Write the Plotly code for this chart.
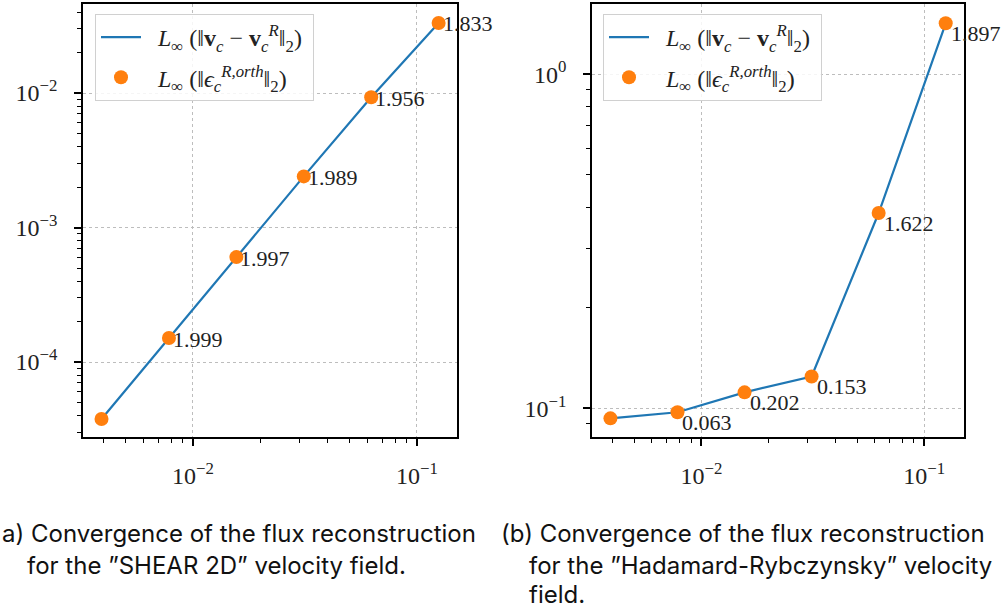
import numpy as np
import plotly.graph_objects as go

# mesh sizes and errors
h = [1/256, 1/128, 1/64, 1/32, 1/16, 1/8]
err_shear = [3.77e-5, 1.51e-4, 6.03e-4, 2.40e-3, 9.30e-3, 3.32e-2]
rate_shear = ["1.999", "1.997", "1.989", "1.956", "1.833"]
err_hr = [0.0933, 0.0973, 0.1116, 0.1245, 0.384, 1.42]
rate_hr = ["0.063", "0.202", "0.153", "1.622", "1.897"]

BLUE = "#1f77b4"
ORANGE = "#ff7f0e"
SERIF = "Liberation Serif, DejaVu Serif, serif"
SANS = "Inter, Roboto, sans-serif"
TXT = "#222222"
NB = "\u00a0"

name_line = (f"{NB}{NB}<i>L</i><sub>∞</sub>{NB}(‖<b>v</b><sub><i>c</i></sub>{NB}−{NB}"
             f"<b>v</b><sub><i>c</i></sub><sup><i>R</i></sup>‖<sub>2</sub>){NB}")
name_pts = (f"{NB}{NB}<i>L</i><sub>∞</sub>{NB}(‖<i>ϵ</i><sub><i>c</i></sub>"
            f"<sup><i>R,orth</i></sup>‖<sub>2</sub>){NB}")

fig = go.Figure()

for k, (err, leg) in enumerate([(err_shear, "legend"), (err_hr, "legend2")]):
    xa = "x" if k == 0 else "x2"
    ya = "y" if k == 0 else "y2"
    fig.add_trace(go.Scatter(x=h, y=err, mode="lines", name=name_line,
                             line=dict(color=BLUE, width=2.2),
                             xaxis=xa, yaxis=ya, legend=leg, legendgroup=f"l{k}"))
    fig.add_trace(go.Scatter(x=h, y=err, mode="markers", name=name_pts,
                             marker=dict(color=ORANGE, size=14, line=dict(width=0)),
                             xaxis=xa, yaxis=ya, legend=leg, legendgroup=f"m{k}"))

# convergence-rate labels
for xi, yi, t in zip(h[1:], err_shear[1:], rate_shear):
    fig.add_annotation(x=np.log10(xi), y=np.log10(yi), xref="x", yref="y",
                       text=t, showarrow=False, xanchor="left", yanchor="middle",
                       xshift=2, yshift=-1, font=dict(family=SERIF, size=22, color=TXT))
for xi, yi, t in zip(h[1:], err_hr[1:], rate_hr):
    fig.add_annotation(x=np.log10(xi), y=np.log10(yi), xref="x2", yref="y2",
                       text=t, showarrow=False, xanchor="left", yanchor="middle",
                       xshift=3, yshift=-10, font=dict(family=SERIF, size=22, color=TXT))

xminor = [m * 10.0**e for e in (-3, -2) for m in range(2, 10)]
grid = dict(showgrid=True, gridcolor="#bdbdbd", gridwidth=1, griddash="dot")
frame = dict(showline=True, linecolor="black", linewidth=1.6, mirror=True, zeroline=False,
             ticks="outside", ticklen=7, tickwidth=1.6, tickcolor="black")
tickfont = dict(family=SERIF, size=24, color=TXT)

common_x = dict(type="log", range=[-2.491, -0.821],
                tickvals=[1e-2, 1e-1], ticktext=["10<sup>−2</sup>", "10<sup>−1</sup>"],
                minor=dict(tickvals=xminor, ticks="outside", ticklen=4, tickwidth=1,
                           tickcolor="black", showgrid=False),
                tickfont=tickfont, ticklabelstandoff=9, **frame, **grid)

legend_style = dict(xanchor="left", yanchor="top",
                    bgcolor="rgba(255,255,255,0.85)", bordercolor="#d0d0d0", borderwidth=1,
                    tracegroupgap=6, itemwidth=40,
                    font=dict(family=SERIF, size=24, color=TXT))

fig.update_layout(
    width=1005, height=611,
    margin=dict(l=0, r=0, t=0, b=0),
    paper_bgcolor="white", plot_bgcolor="white",
    xaxis=dict(domain=[83/1005, 457/1005], anchor="y", **common_x),
    xaxis2=dict(domain=[592/1005, 964/1005], anchor="y2", **common_x),
    yaxis=dict(type="log", range=[-4.557, -1.338], domain=[1-437/611, 1-4/611], anchor="x",
               tickvals=[1e-4, 1e-3, 1e-2],
               ticktext=["10<sup>−4</sup>", "10<sup>−3</sup>", "10<sup>−2</sup>"],
               minor=dict(tickvals=[m * 10.0**e for e in (-5, -4, -3, -2) for m in range(2, 10)],
                          ticks="outside", ticklen=4, tickwidth=1, tickcolor="black", showgrid=False),
               tickfont=tickfont, ticklabelstandoff=12, **frame, **grid),
    yaxis2=dict(type="log", range=[-1.086, 0.21], domain=[1-437/611, 1-4/611], anchor="x2",
                tickvals=[1e-1, 1e0], ticktext=["10<sup>−1</sup>", "10<sup>0</sup>"],
                minor=dict(tickvals=[m * 10.0**e for e in (-2, -1, 0) for m in range(2, 10)],
                           ticks="outside", ticklen=4, tickwidth=1, tickcolor="black", showgrid=False),
                tickfont=tickfont, ticklabelstandoff=12, **frame, **grid),
    legend=dict(x=95/1005, y=1-14/611, **legend_style),
    legend2=dict(x=603/1005, y=1-14/611, **legend_style),
    showlegend=True,
)

# captions under the panels
captions = [
    ("a) Convergence of the flux reconstruction", 0, 533),
    ("for the ”SHEAR 2D” velocity field.", 25, 565),
    ("(b) Convergence of the flux reconstruction", 499, 533),
    ("for the ”Hadamard-Rybczynsky” velocity", 527, 565),
    ("field.", 527, 594),
]
for t, px, py in captions:
    fig.add_annotation(x=px/1005, y=1-py/611, xref="paper", yref="paper", text=t,
                       showarrow=False, xanchor="left", yanchor="middle",
                       font=dict(family=SANS, size=24, color="#111111"))

fig.write_html("out.html")
